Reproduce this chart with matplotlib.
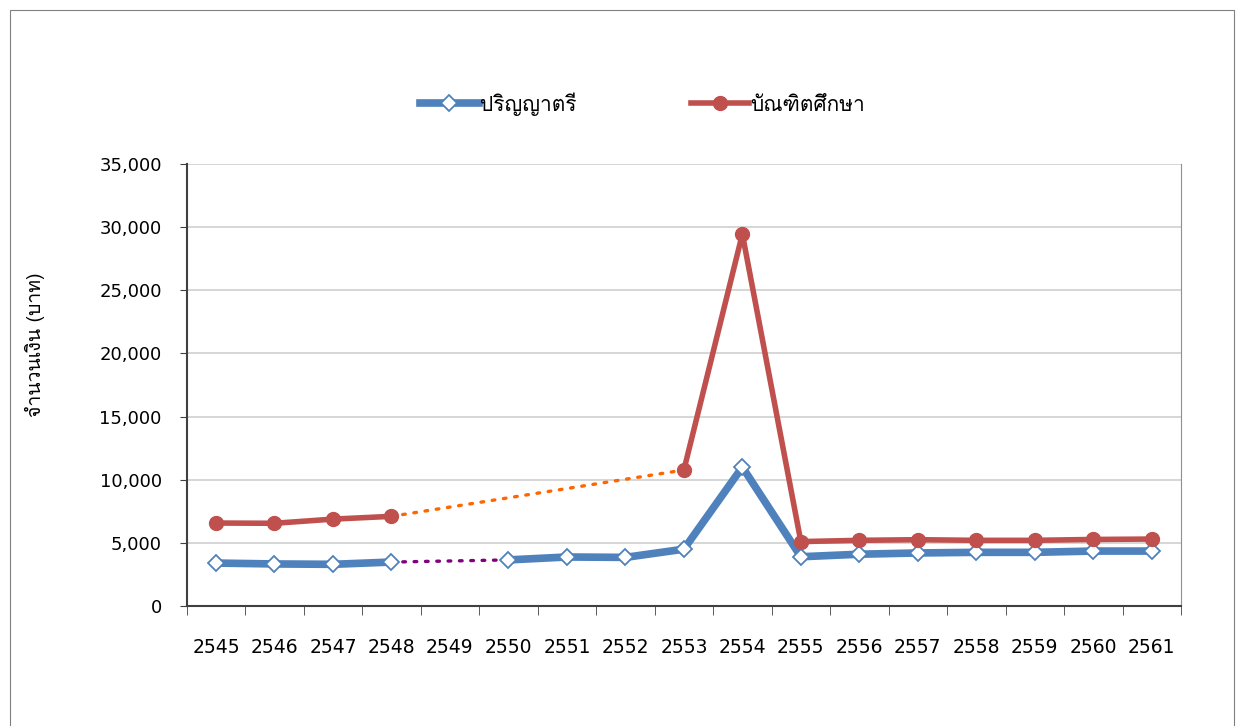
import matplotlib
matplotlib.use("Agg")
import matplotlib.pyplot as plt
from matplotlib import font_manager
from matplotlib.patches import Rectangle
from matplotlib.ft2font import FT2Font
import numpy as np

years = ["2545", "2546", "2547", "2548", "2549", "2550", "2551", "2552", "2553",
         "2554", "2555", "2556", "2557", "2558", "2559", "2560", "2561"]
bachelor = [3400, 3330, 3300, 3480, None, 3650, 3880, 3850, 4500,
            11000, 3900, 4100, 4200, 4250, 4250, 4350, 4350]
graduate = [6570, 6550, 6880, 7100, None, None, None, None, 10770,
            29450, 5100, 5200, 5250, 5200, 5200, 5270, 5300]
series_names = ["ปริญญาตรี", "บัณฑิตศึกษา"]
ylabel = "จำนวนเงิน (บาท)"
yticks = [0, 5000, 10000, 15000, 20000, 25000, 30000, 35000]

# find a font with Thai glyphs
thai_family = None
for f in font_manager.fontManager.ttflist:
    try:
        cm = FT2Font(f.fname).get_charmap()
        if 0x0E01 in cm and 0x0E32 in cm:
            thai_family = f.name
            break
    except Exception:
        pass
families = ["DejaVu Sans"]
thai_fams = ["DejaVu Sans"]
if thai_family:
    families = ["DejaVu Sans", thai_family]
    thai_fams = [thai_family, "DejaVu Sans"]
plt.rcParams["font.family"] = families

blue = "#4F81BD"
red = "#C0504D"

W, H = 1244, 726
fig = plt.figure(figsize=(W / 100, H / 100), dpi=100)
fig.patches.append(Rectangle((10 / W, -0.01), 1224 / W, 1 - 10 / H + 0.01,
                             transform=fig.transFigure, fill=False,
                             edgecolor="#808080", linewidth=0.8))
ax = fig.add_axes([186.75 / W, 1 - 606 / H, (1181 - 186.75) / W, (606 - 164) / H])

x = np.arange(len(years))
b = np.array([np.nan if v is None else v for v in bachelor], dtype=float)
g = np.array([np.nan if v is None else v for v in graduate], dtype=float)

# dotted gap connectors
def gap_connector(arr, color):
    idx = np.where(~np.isnan(arr))[0]
    for i0, i1 in zip(idx[:-1], idx[1:]):
        if i1 - i0 > 1:
            ax.plot([x[i0], x[i1]], [arr[i0], arr[i1]], linestyle=(0, (0.8, 2.6)),
                    color=color, linewidth=2.4, dash_capstyle="round", zorder=2)

gap_connector(b, "#800080")
gap_connector(g, "#FF6600")

ax.plot(x, b, color=blue, linewidth=5.5, marker="D", markersize=8,
        markerfacecolor="white", markeredgecolor=blue, markeredgewidth=1.3,
        label=series_names[0], zorder=3)
ax.plot(x, g, color=red, linewidth=4, marker="o", markersize=10,
        markerfacecolor=red, markeredgecolor=red,
        label=series_names[1], zorder=3)

ax.set_xlim(-0.5, len(years) - 0.5)
ax.set_ylim(0, 35000)
ax.set_yticks(yticks)
ax.set_yticklabels([f"{v:,}" for v in yticks], fontsize=13)
ax.set_xticks(x)
ax.set_xticklabels(years, fontsize=13.5)
ax.set_xticks(np.arange(-0.5, len(years)), minor=True)
ax.tick_params(axis="x", which="major", length=0, pad=23)
ax.tick_params(axis="x", which="minor", length=6.5, direction="out", color="#404040")
ax.tick_params(axis="y", length=5, direction="out", color="#404040", pad=13)
ax.grid(axis="y", color="#D0D0D0", linewidth=1.2)
ax.set_axisbelow(True)
for s in ["left", "bottom"]:
    ax.spines[s].set_color("#404040")
    ax.spines[s].set_linewidth(1.5)
ax.spines["right"].set_color("#909090")
ax.spines["top"].set_visible(False)

ax.set_ylabel(ylabel, fontsize=14, family=thai_fams, fontweight="medium")
ax.yaxis.set_label_coords((45 - 186.75) / 994.25, (606 - 345) / 442)

leg = ax.legend(loc="center", bbox_to_anchor=(642.5 / W, (H - 104) / H), bbox_transform=fig.transFigure,
                ncol=2, frameon=False, prop={"family": thai_fams, "size": 15},
                handlelength=2.8, columnspacing=5.5, handletextpad=0.05)

fig.savefig("out.png", dpi=100)
